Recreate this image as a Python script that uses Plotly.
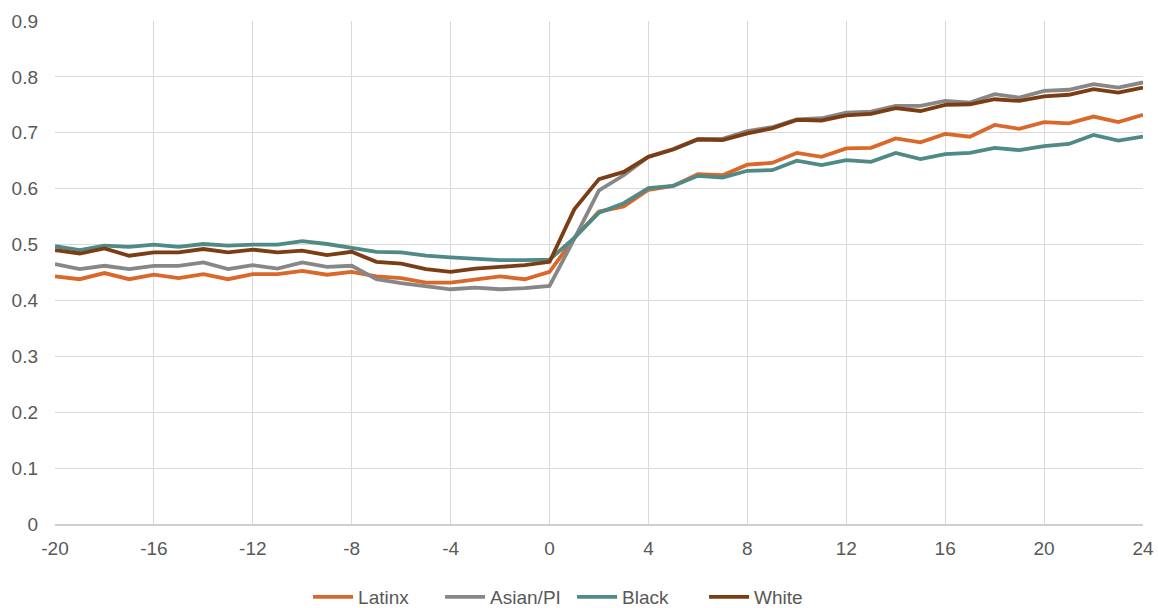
import plotly.graph_objects as go

x_vals = list(range(-20, 25))

latinx = [0.443, 0.438, 0.449, 0.438, 0.446, 0.440, 0.447, 0.438, 0.447, 0.447,
          0.453, 0.446, 0.451, 0.443, 0.440, 0.432, 0.432, 0.437, 0.443, 0.438,
          0.451, 0.512, 0.559, 0.568, 0.598, 0.605, 0.626, 0.624, 0.643, 0.646,
          0.664, 0.657, 0.672, 0.673, 0.690, 0.683, 0.698, 0.693, 0.714, 0.707,
          0.719, 0.717, 0.729, 0.719, 0.732]

asian_pi = [0.465, 0.456, 0.462, 0.456, 0.462, 0.462, 0.468, 0.456, 0.463, 0.457,
            0.468, 0.460, 0.462, 0.438, 0.431, 0.426, 0.420, 0.423, 0.420, 0.422,
            0.426, 0.510, 0.597, 0.624, 0.657, 0.671, 0.689, 0.689, 0.703, 0.710,
            0.724, 0.726, 0.736, 0.738, 0.748, 0.748, 0.757, 0.754, 0.769, 0.763,
            0.775, 0.777, 0.787, 0.781, 0.790]

black = [0.497, 0.490, 0.498, 0.496, 0.500, 0.496, 0.501, 0.498, 0.500, 0.500,
         0.506, 0.501, 0.494, 0.487, 0.486, 0.480, 0.477, 0.474, 0.472, 0.472,
         0.473, 0.512, 0.557, 0.574, 0.601, 0.605, 0.623, 0.620, 0.632, 0.633,
         0.650, 0.642, 0.651, 0.648, 0.664, 0.653, 0.662, 0.664, 0.673, 0.669,
         0.676, 0.680, 0.696, 0.686, 0.693]

white = [0.490, 0.484, 0.493, 0.480, 0.486, 0.486, 0.492, 0.486, 0.491, 0.486,
         0.489, 0.481, 0.487, 0.469, 0.466, 0.456, 0.451, 0.457, 0.460, 0.463,
         0.469, 0.563, 0.617, 0.630, 0.657, 0.670, 0.688, 0.687, 0.699, 0.708,
         0.723, 0.722, 0.731, 0.734, 0.744, 0.739, 0.750, 0.751, 0.760, 0.757,
         0.765, 0.768, 0.778, 0.772, 0.781]

x_tick_vals = list(range(-20, 25, 4))
x_tick_text = [str(v) for v in x_tick_vals]
y_tick_vals = [0, 0.1, 0.2, 0.3, 0.4, 0.5, 0.6, 0.7, 0.8, 0.9]
y_tick_text = ["0", "0.1", "0.2", "0.3", "0.4", "0.5", "0.6", "0.7", "0.8", "0.9"]

series = [
    ("Latinx", latinx, "#D9692B"),
    ("Asian/PI", asian_pi, "#878787"),
    ("Black", black, "#4F8A86"),
    ("White", white, "#7B3D14"),
]

fig = go.Figure()
for name, vals, color in series:
    fig.add_trace(go.Scatter(
        x=x_vals, y=vals, name=name, mode="lines",
        line=dict(color=color, width=3.8),
    ))

font_family = "Liberation Sans, Arial, sans-serif"
FS = 19

fig.update_layout(
    width=1158, height=608,
    margin=dict(l=55, r=15, t=21, b=84, autoexpand=False),
    paper_bgcolor="white", plot_bgcolor="white",
    font=dict(family=font_family, size=FS, color="#595959"),
    showlegend=True,
    legend=dict(
        orientation="h", x=0.2326, xanchor="left", y=-0.145, yanchor="middle",
        font=dict(family=font_family, size=FS, color="#595959"),
        itemwidth=40, tracegroupgap=0,
        entrywidth=77, entrywidthmode="pixels",
    ),
    xaxis=dict(
        range=[-20, 24], tickmode="array", tickvals=x_tick_vals, ticktext=x_tick_text,
        showgrid=True, gridcolor="#D9D9D9", gridwidth=1,
        zeroline=False, showline=True, linecolor="#D0D0D0", linewidth=1.5,
        ticks="", tickfont=dict(size=FS, color="#595959"),
        automargin=False, ticklabelstandoff=6,
    ),
    yaxis=dict(
        range=[0, 0.9], tickmode="array", tickvals=y_tick_vals, ticktext=y_tick_text,
        showgrid=True, gridcolor="#D9D9D9", gridwidth=1,
        zeroline=False, showline=False,
        ticks="", tickfont=dict(size=FS, color="#595959"),
        automargin=False, ticklabelstandoff=16,
    ),
)

fig.write_html(
    "out.html",
    config={"displayModeBar": False},
    post_script="document.body.style.margin='0';document.body.style.overflow='hidden';",
)
